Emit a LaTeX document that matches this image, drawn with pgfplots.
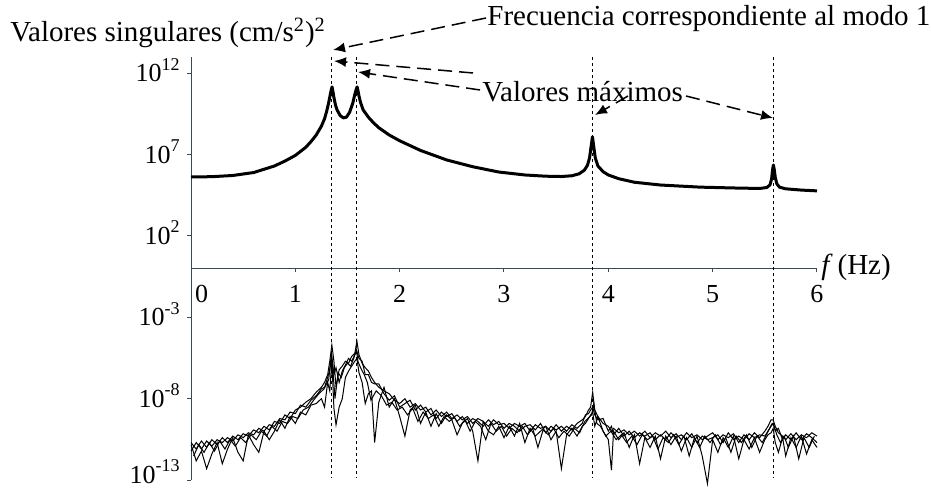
\documentclass[border=0pt]{standalone}
\usepackage{fontspec}
\setmainfont{Liberation Serif}
\usepackage{pgfplots}
\pgfplotsset{compat=1.18}
\usepackage{pgfplotstable}
\usetikzlibrary{arrows.meta}
\definecolor{axc}{RGB}{50,75,95}
\newcommand{\sps}[1]{\raisebox{0.45em}{\fontsize{9}{9}\selectfont #1}}

\pgfplotstableread{
f a b c
0.00 2e-11 6e-12 1.5e-11
0.05 8e-12 2e-11 1.5e-12
0.10 2.5e-11 8e-12 6e-12
0.15 1e-11 2.5e-11 5e-13
0.20 3e-11 1.2e-11 4e-12
0.25 1.5e-11 3e-11 2e-11
0.30 4e-11 2e-11 1e-12
0.35 2e-11 4e-11 8e-12
0.40 5e-11 2.5e-11 4e-11
0.45 3e-11 6e-11 5e-12
0.50 7e-11 4e-11 1.5e-12
0.55 5e-11 8e-11 6e-11
0.60 1.2e-10 6e-11 1.5e-11
0.65 8e-11 1.5e-10 5e-12
0.70 2e-10 1e-10 1e-10
0.75 1.2e-10 2.5e-10 3e-11
0.80 4e-10 2e-10 1e-10
0.85 3e-10 6e-10 5e-10
0.90 1e-9 5e-10 1.5e-10
0.95 6e-10 1.5e-9 8e-10
1.00 2e-9 1.2e-9 3e-10
1.05 3e-9 4e-9 1.5e-9
1.10 6e-9 3e-9 1e-9
1.15 1e-8 8e-9 4e-9
1.20 2.5e-8 1.5e-8 5e-9
1.25 5e-8 4e-8 1e-8
1.28 1e-7 5e-8 3e-9
1.31 3e-7 2e-7 1e-7
1.33 2e-6 6e-7 3e-8
1.35 2e-5 4e-6 2e-6
1.37 2e-6 3e-7 2.5e-9
1.39 5e-8 8e-7 2.5e-10
1.42 6e-7 1e-7 3e-9
1.45 1e-6 5e-7 1e-8
1.48 2e-6 1.2e-6 2e-7
1.51 1.5e-6 3e-6 5e-7
1.54 4e-6 2e-6 1e-6
1.57 6e-6 5e-6 2e-6
1.59 3.5e-5 8e-6 3e-6
1.61 5e-6 3e-6 4e-7
1.64 1.5e-6 2e-6 1e-7
1.67 8e-7 3e-7 5e-9
1.70 5e-7 3e-7 2e-8
1.73 2e-7 1e-7 3e-8
1.76 1e-7 8e-8 2e-11
1.80 5e-8 8e-8 6e-9
1.85 3e-8 2e-8 5e-8
1.90 2e-8 8e-9 3e-9
1.95 8e-9 1.5e-8 1e-8
2.00 5e-9 3e-9 8e-10
2.05 1e-8 5e-9 5e-11
2.10 3e-9 8e-9 2e-9
2.15 5e-9 2e-9 4e-9
2.20 2e-9 4e-9 3e-10
2.25 3e-9 1.5e-9 1.5e-9
2.30 1e-9 2.5e-9 2e-10
2.35 2e-9 6e-10 1.2e-9
2.40 8e-10 1.5e-9 3e-10
2.45 1.5e-9 8e-10 1e-9
2.50 6e-10 1.2e-9 5e-10
2.55 1e-9 4e-10 6e-11
2.60 5e-10 8e-10 3e-10
2.65 8e-10 3e-10 6e-10
2.70 3e-10 6e-10 1e-10
2.75 6e-10 4e-10 1.5e-12
2.80 4e-10 2e-10 4e-10
2.85 2e-10 5e-10 1e-10
2.90 5e-10 2.5e-10 6e-11
2.95 2.5e-10 4e-10 2e-10
3.00 3e-10 1.5e-10 4e-11
3.05 1.5e-10 3e-10 2e-10
3.10 3e-10 2e-10 5e-11
3.15 2e-10 1e-10 3e-10
3.20 3e-10 2e-10 2e-11
3.25 1e-10 2.5e-10 1.5e-10
3.30 2.5e-10 1.2e-10 5e-11
3.35 1.5e-10 3e-10 1e-10
3.40 2e-10 8e-11 2e-10
3.45 1e-10 2e-10 3e-11
3.50 2.5e-10 1.2e-10 1e-10
3.55 1e-10 2e-10 5e-13
3.60 2e-10 1e-10 6e-11
3.65 1.2e-10 2.5e-10 1.5e-10
3.70 3e-10 1.5e-10 5e-11
3.75 5e-10 3e-10 2e-10
3.78 8e-10 1e-9 3e-10
3.81 2e-9 1.2e-9 6e-10
3.83 3e-9 2e-9 1e-9
3.85 2.5e-8 3e-9 1.5e-9
3.87 2e-9 1e-9 2e-10
3.90 8e-10 5e-10 8e-10
3.95 3e-10 6e-10 1e-10
4.00 2e-10 1e-10 3e-11
4.03 1e-10 2e-10 4e-13
4.05 1.5e-10 6e-11 1e-10
4.10 8e-11 1.5e-10 3e-11
4.15 1.2e-10 5e-11 8e-11
4.20 6e-11 1e-10 1e-11
4.25 1e-10 4e-11 6e-11
4.30 5e-11 8e-11 1e-12
4.35 1e-10 5e-11 4e-11
4.40 4e-11 8e-11 1e-11
4.45 8e-11 3e-11 5e-11
4.50 5e-11 6e-11 2e-12
4.55 1e-10 3e-11 5e-11
4.60 4e-11 8e-11 1.5e-11
4.65 7e-11 4e-11 5e-11
4.70 3e-11 6e-11 6e-12
4.75 8e-11 3e-11 4e-11
4.80 4e-11 7e-11 1e-11
4.85 6e-11 2e-11 5e-11
4.90 3e-11 5e-11 3e-12
4.95 5e-11 3e-11 6e-14
5.00 8e-11 4e-11 3e-11
5.05 3e-11 6e-11 5e-12
5.10 6e-11 2e-11 4e-11
5.15 4e-11 8e-11 1e-11
5.20 7e-11 3e-11 5e-11
5.25 2e-11 5e-11 2e-12
5.30 6e-11 3e-11 3e-11
5.35 3e-11 7e-11 8e-12
5.40 8e-11 4e-11 4e-11
5.45 4e-11 6e-11 5e-12
5.50 1e-10 5e-11 3e-11
5.53 2e-10 1e-10 6e-11
5.56 5e-10 2e-10 8e-11
5.58 5e-10 3e-10 1.5e-10
5.60 2e-10 1e-10 2e-11
5.63 8e-11 1.5e-10 5e-12
5.67 5e-11 3e-11 4e-11
5.70 3e-11 6e-11 3e-12
5.75 7e-11 3e-11 4e-11
5.80 3e-11 8e-11 1e-11
5.85 6e-11 3e-11 5e-11
5.90 4e-11 7e-11 4e-12
5.95 8e-11 4e-11 3e-11
6.00 5e-11 2e-11 1e-11
}\noisy

\pgfplotstableread{
f d
0.025 3e-12
0.075 1.5e-11
0.125 5e-12
0.175 2e-11
0.225 6e-12
0.275 2.5e-11
0.325 8e-12
0.375 3e-11
0.425 1.2e-11
0.475 4e-11
0.525 2e-11
0.575 6e-11
0.625 3e-11
0.675 1e-10
0.725 5e-11
0.775 2e-10
0.825 1e-10
0.875 4e-10
0.925 3e-10
0.975 8e-10
1.025 6e-10
1.075 2e-9
1.125 3e-9
1.175 8e-9
1.225 2e-8
1.275 4e-8
1.32 1.5e-7
1.345 5e-6
1.36 6e-7
1.38 1e-8
1.41 4e-7
1.44 2e-7
1.47 8e-7
1.50 1.5e-6
1.53 1e-6
1.56 3e-6
1.585 1e-5
1.60 2e-6
1.625 8e-7
1.66 3e-7
1.69 1e-7
1.725 8e-9
1.775 3e-8
1.825 1.5e-8
1.875 4e-9
1.925 6e-9
1.975 2e-9
2.025 3e-9
2.075 1e-9
2.125 2.5e-9
2.175 4e-10
2.225 1.5e-9
2.275 6e-10
2.325 1e-9
2.375 2e-10
2.425 8e-10
2.475 4e-10
2.525 7e-10
2.575 2e-10
2.625 5e-10
2.675 1e-10
2.725 4e-10
2.775 2e-10
2.825 3e-11
2.875 3e-10
2.925 1e-10
2.975 2e-10
3.025 5e-11
3.075 1.5e-10
3.125 8e-11
3.175 2e-10
3.225 6e-11
3.275 1.5e-10
3.325 1e-11
3.375 1.2e-10
3.425 6e-11
3.475 1.5e-10
3.525 4e-11
3.575 1e-10
3.625 5e-11
3.675 1.5e-10
3.725 8e-11
3.775 4e-10
3.84 1e-9
3.86 5e-9
3.89 3e-10
3.925 2e-10
3.975 5e-11
4.025 1e-10
4.075 3e-11
4.125 6e-11
4.175 2e-11
4.225 5e-11
4.275 1.5e-11
4.325 6e-11
4.375 3e-11
4.425 5e-11
4.475 8e-12
4.525 4e-11
4.575 2e-11
4.625 6e-11
4.675 1.5e-11
4.725 5e-11
4.775 3e-12
4.825 4e-11
4.875 1e-11
4.925 5e-11
4.975 2e-11
5.025 6e-11
5.075 1.5e-11
5.125 4e-11
5.175 5e-12
5.225 5e-11
5.275 2e-11
5.325 6e-11
5.375 1e-11
5.425 5e-11
5.475 2e-11
5.515 6e-11
5.545 1.5e-10
5.57 3e-10
5.59 2e-10
5.615 6e-11
5.65 2e-11
5.685 5e-11
5.725 1e-11
5.775 5e-11
5.825 2e-12
5.875 4e-11
5.925 1e-11
5.975 5e-11
}\noisyd

\begin{document}
\begin{tikzpicture}
\useasboundingbox (0,0) rectangle (465.5pt,246pt);
\begin{axis}[
  at={(95.5pt,6pt)}, anchor=south west,
  scale only axis, width=313pt, height=211.5pt,
  ymode=log, xmin=0, xmax=6, ymin=1e-13, ymax=1e13,
  axis x line=middle, axis y line=left,
  axis line style={axc, line width=0.5pt, -},
  hide obscured x ticks=false,
  xtick={0,1,2,3,4,5,6},
  xticklabels={\makebox[0pt][l]{\hspace{2pt}0},1,2,3,4,5,6},
  ytick={1e-13,1e-8,1e-3,1e2,1e7,1e12},
  yticklabels={\raisebox{2.5pt}{10\sps{-13}},10\sps{-8},10\sps{-3},10\sps{2},10\sps{7},10\sps{12}},
  minor tick num=0, yminorticks=false, xminorticks=false,
  tick style={axc, line width=0.5pt},
  tick align=outside, major tick length=2pt,
  tick label style={font=\fontsize{13}{15}\selectfont},
  xticklabel style={yshift=-3pt},
  yticklabel style={anchor=base east, inner sep=0pt, xshift=-3.5pt, yshift=-4.3pt},
  /pgf/number format/assume math mode=true,
  clip=false,
]
\addplot[black, line width=1.5pt, line join=round] coordinates {
(0,4.2e5) (0.2,4.4e5) (0.4,5.2e5) (0.6,7.9e5) (0.8,2e6) (0.9,4e6) (1.0,8.9e6)
(1.1,2.8e7) (1.15,6.3e7) (1.2,1.6e8) (1.25,5.6e8) (1.28,1.6e9) (1.30,4.5e9)
(1.32,1.6e10) (1.335,5e10) (1.345,1e11) (1.352,1.45e11) (1.36,7.9e10) (1.37,3.2e10)
(1.385,1.1e10) (1.40,5.6e9) (1.43,2.5e9) (1.46,1.8e9) (1.49,2e9) (1.52,4e9)
(1.55,1.4e10) (1.57,5e10) (1.585,1.1e11) (1.592,1.45e11) (1.60,8.9e10) (1.61,4e10)
(1.625,1.6e10) (1.65,5.6e9) (1.70,2e9) (1.75,8.9e8) (1.80,4.5e8) (1.90,1.6e8)
(2.00,7.1e7) (2.2,1.8e7) (2.45,4.7e6) (2.7,1.8e6) (2.95,8.5e5) (3.2,5.6e5)
(3.4,4.7e5) (3.55,4.5e5) (3.65,5e5) (3.72,6.6e5) (3.77,1.1e6) (3.80,2.2e6)
(3.82,6.3e6) (3.835,3.2e7) (3.848,1.26e8) (3.86,3.2e7) (3.875,6.3e6) (3.9,2e6)
(3.95,8.9e5) (4.0,5.6e5) (4.1,3.3e5) (4.25,2e5) (4.5,1.35e5) (4.88,1e5)
(5.2,8.9e4) (5.45,8.3e4) (5.52,9.5e4) (5.55,1.4e5) (5.565,3.2e5) (5.575,1.26e6)
(5.582,2.3e6) (5.59,1.26e6) (5.60,4e5) (5.615,1.6e5) (5.64,1e5) (5.7,7.9e4)
(5.85,6.6e4) (6.0,5.9e4)
};
\addplot[black, line width=0.5pt] table[x=f,y=a]{\noisy};
\addplot[black, line width=0.5pt] table[x=f,y=b]{\noisy};
\addplot[black, line width=0.5pt] table[x=f,y=c]{\noisy};
\addplot[black, line width=0.5pt] table[x=f,y=d]{\noisyd};
\addplot[black, line width=0.5pt, dash pattern=on 1.5pt off 1.5pt] coordinates {(1.35,1e13) (1.35,1.5e-13)};
\addplot[black, line width=0.5pt, dash pattern=on 1.5pt off 1.5pt] coordinates {(1.59,1e13) (1.59,1.5e-13)};
\addplot[black, line width=0.5pt, dash pattern=on 1.5pt off 1.5pt] coordinates {(3.85,1e13) (3.85,1.5e-13)};
\addplot[black, line width=0.5pt, dash pattern=on 1.5pt off 1.5pt] coordinates {(5.58,1e13) (5.58,1.5e-13)};
\end{axis}
\begin{scope}[x=0.5pt,y=-0.5pt,yshift=246pt]
\tikzset{ann/.style={line width=0.75pt, dash pattern=on 7pt off 3.5pt, -{Latex[length=6pt,width=5pt]}}}
\node[anchor=base west, inner sep=0pt, font=\fontsize{14.5}{17}\selectfont] at (10,42) {Valores singulares (cm/s\textsuperscript{2})\textsuperscript{2}};
\node[anchor=base west, inner sep=0pt, font=\fontsize{14.5}{17}\selectfont] at (487,26) {Frecuencia correspondiente al modo 1};
\node[anchor=base west, inner sep=0pt, font=\fontsize{14.5}{17}\selectfont] at (482,102) {Valores máximos};
\node[anchor=base west, inner sep=0pt, font=\fontsize{14.5}{17}\selectfont] at (821,275) {\textit{f}\,(Hz)};
\draw[ann] (486,18) -- (333,50);
\draw[ann] (473,73) -- (334,61);
\draw[ann] (480,90) -- (358,72);
\draw[ann] (628,96) -- (595,115);
\draw[ann] (686,96) -- (773,118);
\end{scope}
\end{tikzpicture}
\end{document}
